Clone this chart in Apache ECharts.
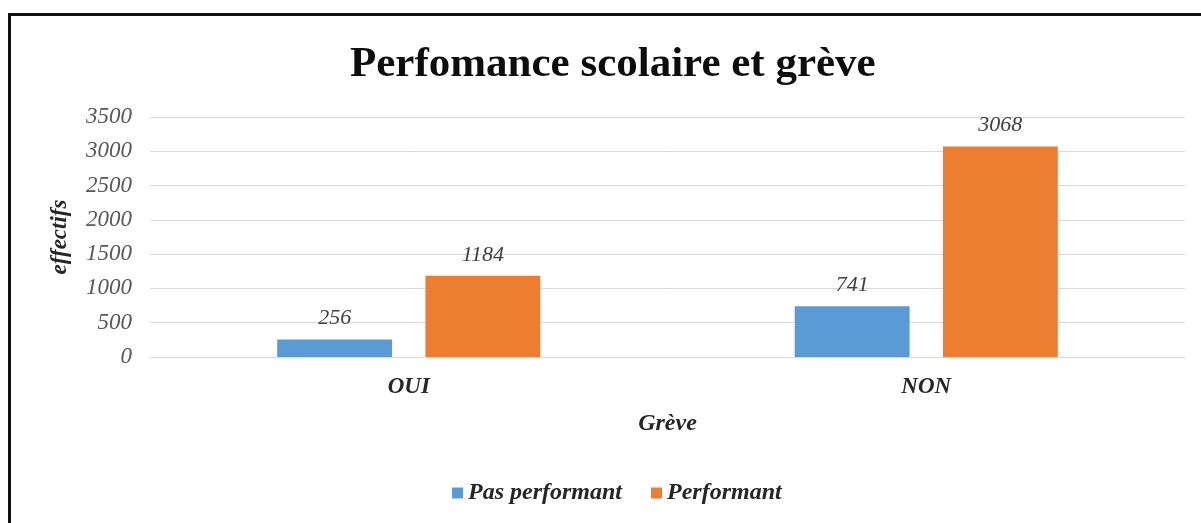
<!DOCTYPE html>
<html>
<head>
<meta charset="utf-8">
<title>Perfomance scolaire et grève</title>
<script src="https://cdn.jsdelivr.net/npm/echarts@6/dist/echarts.min.js"></script>
<style>
    html, body { margin: 0; padding: 0; background: #fff; }
    #main { position: absolute; left: 0; top: 0; width: 1201px; height: 523px; }
    #cadre { position: absolute; left: 8px; top: 13px; right: 0; bottom: 0; border-top: 3px solid #111; border-left: 3px solid #111; pointer-events: none; }
</style>
</head>
<body>
<div id="main"></div>
<div id="cadre"></div>
<script>
    // données
    var categories = ['OUI', 'NON'];
    var pasPerformant = [256, 741];
    var performant = [1184, 3068];
    var yMin = 0, yMax = 3500, yStep = 500;

    var police = '"Liberation Serif", "Times New Roman", serif';

    var chartDom = document.getElementById('main');
    var myChart = echarts.init(chartDom, null, {renderer: 'canvas'});
    var option;

    option = {
        backgroundColor: '#fff',
        animation: false,
        color: ['#5B9BD5', '#ED7D31'],
        title: {
            text: 'Perfomance scolaire et grève',
            left: 345,
            top: 38,
            textStyle: {
                fontFamily: police,
                fontSize: 43,
                fontWeight: 'bold',
                color: '#0d0d0d'
            }
        },
        legend: {
            bottom: 13,
            left: 447,
            icon: 'rect',
            itemWidth: 11,
            itemHeight: 11,
            itemGap: 29,
            textStyle: {
                fontFamily: police,
                fontSize: 24,
                fontStyle: 'italic',
                fontWeight: 'bold',
                color: '#262626'
            },
            data: ['Pas performant', 'Performant']
        },
        grid: {
            left: 150,
            right: 16,
            top: 117,
            bottom: 166
        },
        xAxis: {
            type: 'category',
            data: categories,
            name: 'Grève',
            nameLocation: 'middle',
            nameGap: 55,
            nameTextStyle: {
                fontFamily: police,
                fontSize: 24,
                fontStyle: 'italic',
                fontWeight: 'bold',
                color: '#262626'
            },
            axisLine: {lineStyle: {color: '#d9d9d9'}},
            axisTick: {show: false},
            axisLabel: {
                margin: 19,
                fontFamily: police,
                fontSize: 23,
                fontStyle: 'italic',
                fontWeight: 'bold',
                color: '#262626'
            }
        },
        yAxis: {
            type: 'value',
            min: yMin,
            max: yMax,
            interval: yStep,
            name: 'effectifs',
            nameLocation: 'middle',
            nameRotate: 90,
            nameGap: 78,
            nameTextStyle: {
                fontFamily: police,
                fontSize: 23,
                fontStyle: 'italic',
                fontWeight: 'bold',
                color: '#262626'
            },
            axisLine: {show: false},
            axisTick: {show: false},
            splitLine: {lineStyle: {color: '#d9d9d9', width: 1}},
            axisLabel: {
                margin: 18,
                formatter: function (value) {
                    return String(value);
                },
                fontFamily: police,
                fontSize: 23,
                fontStyle: 'italic',
                color: '#595959'
            }
        },
        series: [
            {
                name: 'Pas performant',
                type: 'bar',
                barWidth: '22.2%',
                barGap: '29%',
                data: pasPerformant,
                label: {
                    show: true,
                    position: 'top',
                    distance: 10,
                    fontFamily: police,
                    fontSize: 22,
                    fontStyle: 'italic',
                    color: '#404040'
                }
            },
            {
                name: 'Performant',
                type: 'bar',
                barWidth: '22.2%',
                barGap: '29%',
                data: performant,
                label: {
                    show: true,
                    position: 'top',
                    distance: 10,
                    fontFamily: police,
                    fontSize: 22,
                    fontStyle: 'italic',
                    color: '#404040'
                }
            }
        ]
    };

    option && myChart.setOption(option);
</script>
</body>
</html>
